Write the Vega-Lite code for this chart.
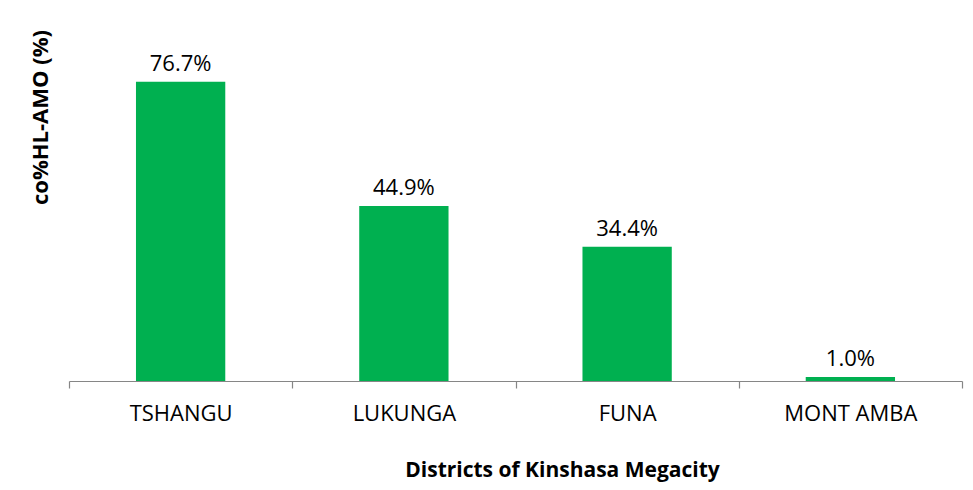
{
  "$schema": "https://vega.github.io/schema/vega-lite/v6.json",
  "autosize": "none",
  "width": 893,
  "height": 351,
  "padding": {"left": 69, "top": 30, "right": 11, "bottom": 109},
  "background": "white",
  "config": {"view": {"stroke": null}, "font": "Open Sans"},
  "data": {"values": [
    {"district": "TSHANGU", "value": 76.7},
    {"district": "LUKUNGA", "value": 44.9},
    {"district": "FUNA", "value": 34.4},
    {"district": "MONT AMBA", "value": 1.0}
  ]},
  "encoding": {
    "x": {"field": "district", "type": "nominal", "sort": null,
      "scale": {"paddingInner": 0, "paddingOuter": 0},
      "axis": {"title": "Districts of Kinshasa Megacity", "labelAngle": 0,
        "labelFontSize": 22, "labelColor": "#000000", "labelPadding": 15,
        "ticks": true, "tickBand": "extent", "tickSize": 7, "tickColor": "#868686", "tickWidth": 1.2,
        "domainColor": "#868686", "domainWidth": 1.2,
        "titleFontSize": 21, "titleFontWeight": "bold", "titleColor": "#000000",
        "titleX": 493, "titleY": 89, "titleBaseline": "middle", "titleAnchor": null, "titleAlign": "center"}},
    "y": {"field": "value", "type": "quantitative", "scale": {"domain": [0, 90]},
      "axis": {"title": "co%HL-AMO (%)", "domain": false, "ticks": false, "labels": false, "grid": false,
        "titleFontSize": 22, "titleFontWeight": "bold", "titleColor": "#000000",
        "titleX": -29, "titleY": 87, "titleAngle": -90, "titleAlign": "center", "titleBaseline": "middle"}}
  },
  "layer": [
    {"mark": {"type": "bar", "color": "#00B050", "width": {"band": 0.4}}},
    {"transform": [{"calculate": "format(datum.value, '.1f') + '%'", "as": "label"}],
      "mark": {"type": "text", "fontSize": 22, "baseline": "alphabetic", "dy": -11, "color": "#000000"},
      "encoding": {"text": {"field": "label", "type": "nominal"}}}
  ]
}
